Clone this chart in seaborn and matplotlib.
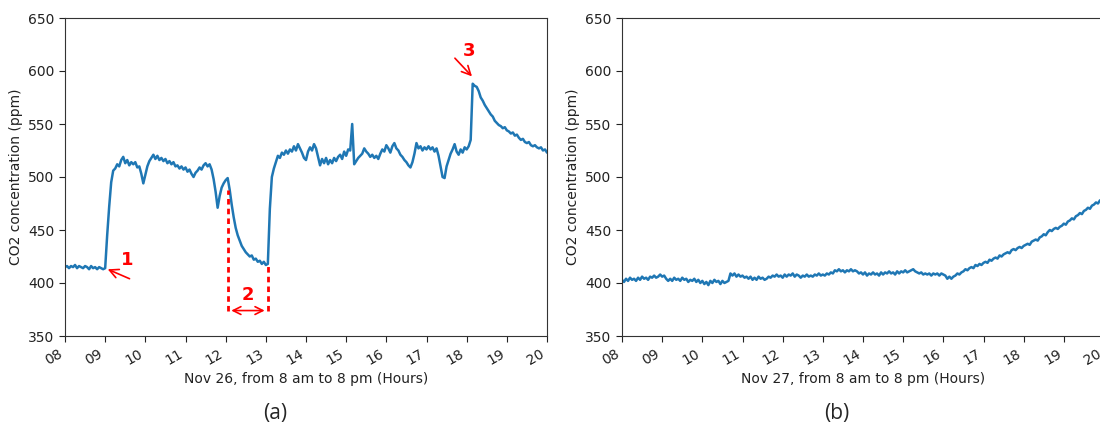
import numpy as np
import pandas as pd
import matplotlib
matplotlib.use("Agg")
import matplotlib.pyplot as plt
import matplotlib.dates as mdates
import seaborn as sns

# CO2 readings every 3 minutes, 08:00 -> 20:00
nov26_ppm = [
    415, 416, 414, 416, 415, 417, 414, 416, 415, 414, 416, 415, 413, 416, 414, 415, 413, 415, 414, 413,
    414, 445, 472, 495, 506, 508, 512, 510, 516, 519, 513, 516, 511, 514, 512, 514, 509, 510, 503, 494,
    502, 510, 515, 518, 521, 517, 520, 516, 518, 515, 517, 513, 515, 512, 514, 510, 511, 508, 510, 507,
    509, 505, 507, 503, 500, 504, 506, 509, 507, 511, 513, 510, 512, 507, 498, 486, 471, 482, 490, 494,
    497, 499, 488, 474, 462, 452, 445, 440, 435, 432, 429, 427, 425, 426, 422, 423, 420, 421, 418, 420,
    417, 418, 470, 500, 508, 514, 520, 518, 523, 521, 525, 522, 526, 524, 529, 525, 531, 527, 523, 518,
    516, 524, 528, 525, 531, 527, 519, 511, 517, 513, 518, 512, 516, 513, 518, 515, 519, 521, 517, 524,
    520, 526, 525, 550, 512, 515, 518, 520, 522, 527, 524, 522, 519, 521, 518, 520, 517, 522, 526, 524,
    530, 527, 523, 529, 532, 527, 525, 521, 519, 516, 514, 511, 509, 514, 522, 532, 527, 529, 525, 528,
    526, 529, 526, 528, 524, 527, 520, 510, 500, 499, 510, 516, 522, 526, 531, 524, 521, 526, 523, 528,
    526, 529, 535, 588, 586, 585, 581, 575, 572, 568, 565, 562, 559, 557, 553, 551, 549, 548, 546, 547,
    544, 543, 541, 542, 539, 540, 537, 535, 536, 533, 532, 533, 530, 529, 530, 528, 527, 528, 525, 526,
    523,
]
nov27_ppm = [
    403, 401, 404, 402, 405, 403, 404, 402, 405, 403, 406, 404, 405, 403, 406, 405, 407, 405, 406, 408,
    406, 407, 404, 402, 404, 402, 405, 403, 404, 402, 405, 403, 404, 401, 403, 402, 404, 401, 403, 400,
    402, 399, 401, 398, 402, 400, 403, 401, 402, 399, 402, 400, 401, 402, 409, 407, 409, 406, 408, 406,
    407, 405, 406, 404, 406, 403, 405, 403, 406, 404, 405, 403, 404, 406, 405, 407, 406, 408, 406, 407,
    405, 408, 406, 408, 407, 409, 406, 408, 407, 405, 407, 406, 408, 406, 407, 406, 408, 407, 409, 407,
    408, 407, 409, 408, 410, 409, 412, 411, 413, 411, 412, 410, 412, 411, 413, 411, 412, 411, 409, 410,
    408, 410, 407, 409, 408, 410, 408, 409, 407, 410, 408, 410, 409, 411, 409, 410, 408, 411, 409, 411,
    410, 412, 410, 411, 412, 413, 411, 410, 409, 410, 408, 409, 408, 409, 407, 409, 408, 409, 407, 409,
    408, 407, 404, 406, 404, 406, 407, 409, 408, 410, 411, 413, 412, 414, 415, 414, 417, 416, 418, 417,
    419, 420, 419, 422, 421, 423, 424, 423, 426, 425, 427, 428, 429, 428, 431, 432, 431, 433, 434, 433,
    435, 436, 437, 436, 439, 440, 441, 440, 443, 444, 446, 445, 448, 450, 449, 451, 452, 451, 453, 454,
    456, 455, 458, 459, 461, 460, 463, 464, 466, 465, 468, 469, 471, 470, 473, 474, 476, 475, 478, 477,
    478,
]
days = ["2021-11-26", "2021-11-27"]
xlabels = ["Nov 26, from 8 am to 8 pm (Hours)", "Nov 27, from 8 am to 8 pm (Hours)"]
captions = ["(a)", "(b)"]

sns.set_style("ticks")
plt.rcParams["font.family"] = ["DejaVu Sans"]

fig = plt.figure(figsize=(11, 4.28), dpi=100)
ax_a = fig.add_axes([65 / 1100, 92 / 428, 482 / 1100, 318 / 428])
ax_b = fig.add_axes([622 / 1100, 92 / 428, 482 / 1100, 318 / 428])

for ax, day, vals, xl in zip([ax_a, ax_b], days, [nov26_ppm, nov27_ppm], xlabels):
    t = pd.date_range(day + " 08:00", day + " 20:00", freq="3min")
    df = pd.DataFrame({"time": t, "co2": vals})
    sns.lineplot(data=df, x="time", y="co2", ax=ax, color="#1f77b4", linewidth=1.8)
    ax.set_xlim(pd.Timestamp(day + " 08:00"), pd.Timestamp(day + " 20:00"))
    ax.set_ylim(350, 650)
    ax.xaxis.set_major_locator(mdates.HourLocator())
    ax.xaxis.set_major_formatter(mdates.DateFormatter("%H"))
    plt.setp(ax.get_xticklabels(), rotation=30, ha="right")
    ax.tick_params(labelsize=10, colors="#222222", length=4)
    for s in ax.spines.values():
        s.set_color("#333333")
        s.set_visible(True)
    ax.set_xlabel(xl, fontsize=10, color="#222222", labelpad=3)
    ax.set_ylabel("CO2 concentration (ppm)", fontsize=10, color="#222222")

# panel captions sit a bit left of the axes centres
fig.text(275 / 1100, 0.035, captions[0], ha="center", va="center", fontsize=15, family="Open Sans")
fig.text(837 / 1100, 0.035, captions[1], ha="center", va="center", fontsize=15, family="Open Sans")


def ts(h):
    return pd.Timestamp(days[0]) + pd.to_timedelta(h, unit="h")


red = "#ff0000"
# annotation 1
ax_a.annotate("", xy=(ts(9.0), 414), xytext=(ts(9.67), 403),
              arrowprops=dict(arrowstyle="->", color=red, lw=1.2, mutation_scale=16))
ax_a.text(ts(9.55), 422, "1", color=red, fontsize=13, fontweight="bold", ha="center", va="center")
# annotation 2
ax_a.vlines([ts(12.06)], 374, 488, colors=red, linestyles=(0, (2, 1.5)), lw=2)
ax_a.vlines([ts(13.05)], 374, 417, colors=red, linestyles=(0, (2, 1.5)), lw=2)
ax_a.annotate("", xy=(ts(12.07), 374), xytext=(ts(13.04), 374),
              arrowprops=dict(arrowstyle="<->", color=red, lw=1.2, mutation_scale=14))
ax_a.text(ts(12.55), 389, "2", color=red, fontsize=13, fontweight="bold", ha="center", va="center")
# annotation 3
ax_a.annotate("", xy=(ts(18.18), 593), xytext=(ts(17.66), 614),
              arrowprops=dict(arrowstyle="->", color=red, lw=1.2, mutation_scale=16))
ax_a.text(ts(18.05), 619, "3", color=red, fontsize=13, fontweight="bold", ha="center", va="center")

fig.savefig("out.png", dpi=100)
